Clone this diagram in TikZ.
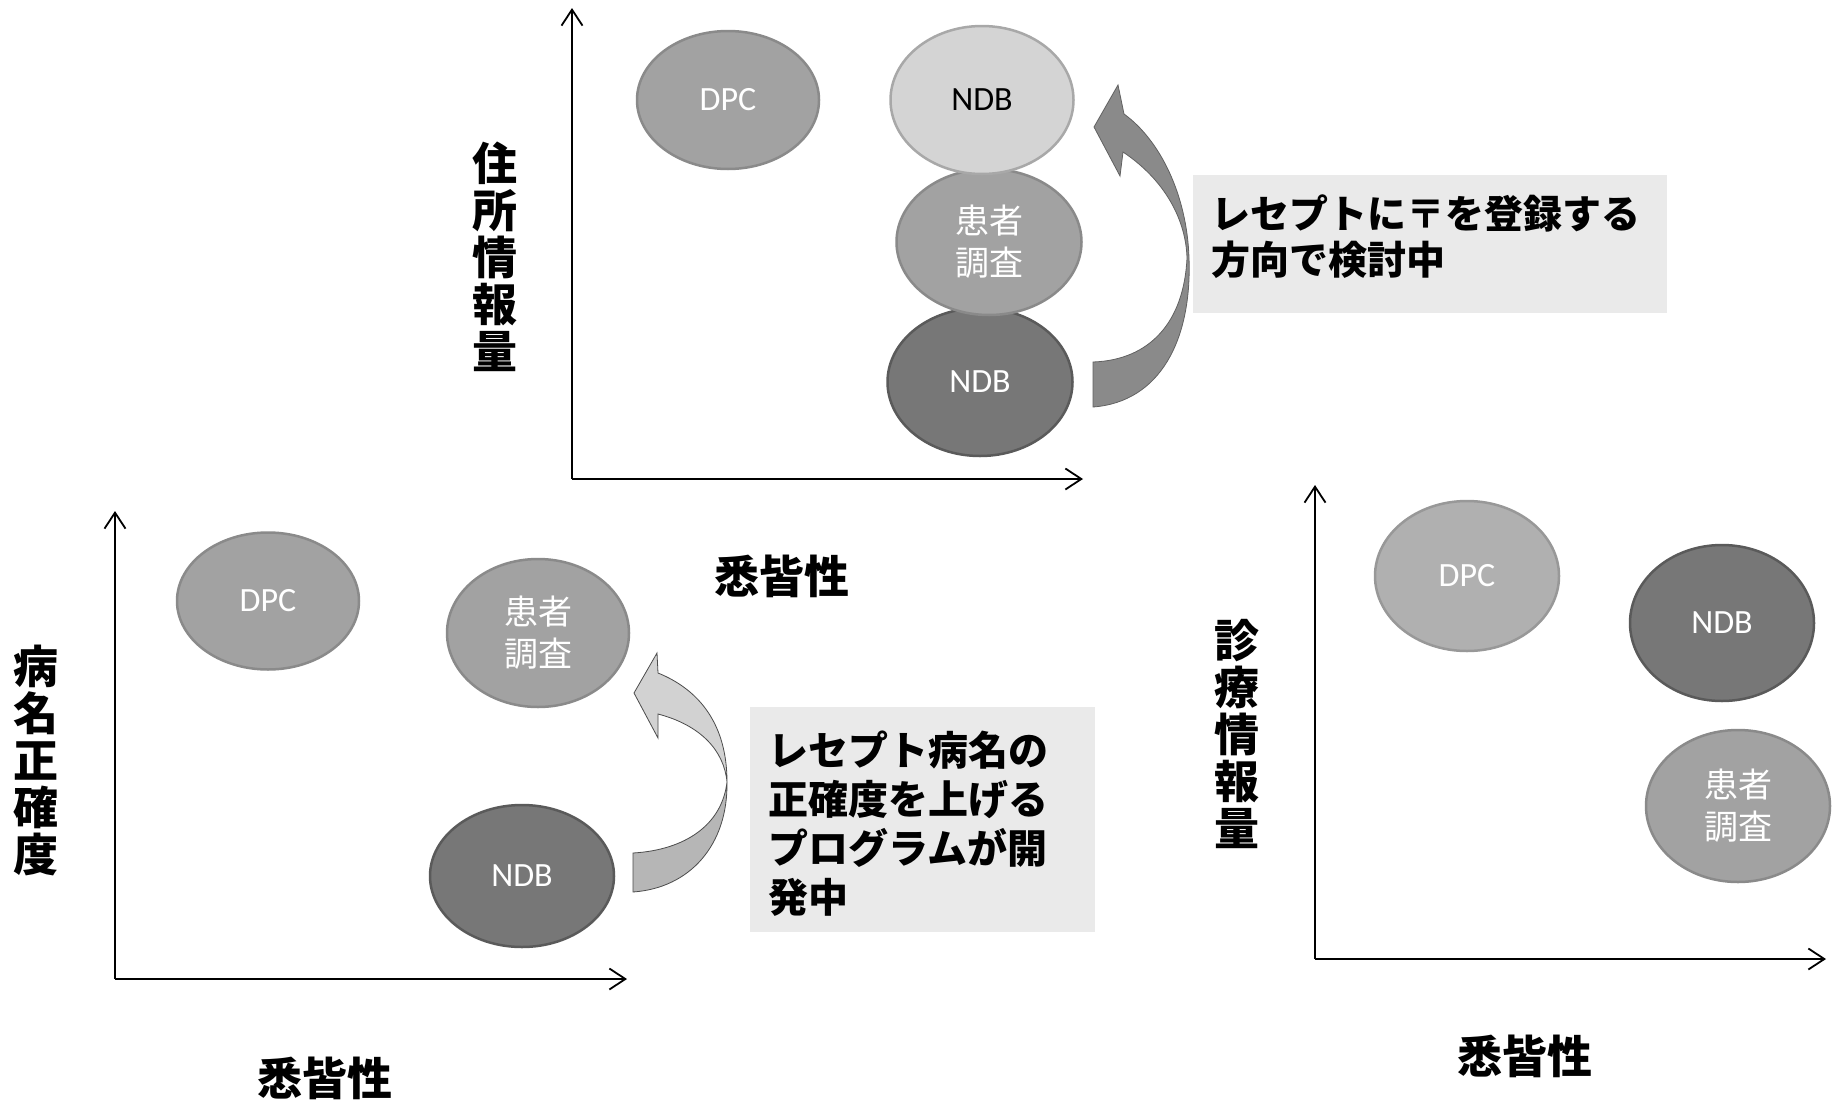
\documentclass[tikz,border=0pt]{standalone}
\usepackage{fontspec}
\setmainfont{Carlito}
\newfontfamily\jp{Noto Sans CJK JP}
\usetikzlibrary{shapes.geometric,arrows.meta}
\definecolor{cLight}{HTML}{D4D4D4}
\definecolor{cLightD}{HTML}{A8A8A8}
\definecolor{cMid}{HTML}{A2A2A2}
\definecolor{cMidD}{HTML}{8A8A8A}
\definecolor{cPale}{HTML}{B0B0B0}
\definecolor{cPaleD}{HTML}{989898}
\definecolor{cDark}{HTML}{777777}
\definecolor{cDarkD}{HTML}{5A5A5A}
\definecolor{boxc}{HTML}{EAEAEA}
\definecolor{arrTop}{HTML}{8A8A8A}
\definecolor{arrLight}{HTML}{D2D2D2}
\definecolor{arrLightB}{HTML}{B6B6B6}
\tikzset{
  blob/.style={ellipse, draw, line width=2.5pt, inner sep=0pt, text=white,
    font=\fontsize{34}{42}\selectfont, align=center},
  midblob/.style={blob, fill=cMid, draw=cMidD},
  paleblob/.style={blob, fill=cPale, draw=cPaleD},
  darkblob/.style={blob, fill=cDark, draw=cDarkD},
  lightblob/.style={blob, fill=cLight, draw=cLightD, text=black},
  axisline/.style={line width=1.8pt, -{Straight Barb[length=16pt,width=21pt,line width=1.8pt]}},
  vlabel/.style={font=\jp\bfseries\fontsize{45}{47}\selectfont, align=center, inner sep=0pt},
  xlabel/.style={font=\jp\bfseries\fontsize{45}{47}\selectfont, inner sep=0pt},
  notebox/.style={fill=boxc, draw=none, inner sep=0pt},
  notetext/.style={font=\jp\bfseries, align=left, inner sep=0pt, anchor=west},
}
\begin{document}
\begin{tikzpicture}[x=1pt,y=-1pt]
\useasboundingbox (0,0) rectangle (1834,1103);
\fill[white] (0,0) rectangle (1834,1103);

% ---------------- top chart ----------------
\coordinate (o1) at (572,479);
\coordinate (ya1) at (572,8);
\coordinate (xa1) at (1083,479);
\draw[axisline] (o1) -- (ya1);
\draw[axisline] (o1) -- (xa1);
\node[vlabel] (yl1) at (495,257) {住\\所\\情\\報\\量};
\node[xlabel] (xl1) at (782,576) {悉皆性};

\node[midblob, minimum width=182pt, minimum height=138pt] (dpc1) at (728,100) {DPC};
\node[darkblob, minimum width=185pt, minimum height=148pt] (ndbd1) at (980,382) {NDB};
\node[midblob, minimum width=185pt, minimum height=146pt] (pat1) at (989,242) {\jp 患者\\\jp 調査};
\node[lightblob, minimum width=183pt, minimum height=148pt] (ndbl1) at (982,100) {NDB};

% curved arrow (top)
\fill[arrTop, draw=arrTop!70!black, line width=0.8pt]
  (1093,362) -- (1093,407)
  .. controls (1160,402) and (1192,340) .. (1189,258)
  .. controls (1187,195) and (1160,140) .. (1124,114)
  -- (1118,85) -- (1094,127) -- (1120,176) -- (1123,152)
  .. controls (1165,180) and (1186,220) .. (1187,258)
  .. controls (1184,322) and (1150,360) .. (1093,362) -- cycle;

\node[notebox, minimum width=474pt, minimum height=138pt] (box1) at (1430,244) {};
\node[notetext, font=\jp\bfseries\fontsize{39}{46}\selectfont] (txt1) at (1211,237)
  {レセプトに〒を登録する\\方向で検討中};

% ---------------- bottom-left chart ----------------
\coordinate (o2) at (115,979);
\coordinate (ya2) at (115,511);
\coordinate (xa2) at (627,979);
\draw[axisline] (o2) -- (ya2);
\draw[axisline] (o2) -- (xa2);
\node[vlabel] (yl2) at (36,760) {病\\名\\正\\確\\度};
\node[xlabel] (xl2) at (325,1078) {悉皆性};

\node[midblob, minimum width=182pt, minimum height=137pt] (dpc2) at (268,601) {DPC};
\node[midblob, minimum width=182pt, minimum height=148pt] (pat2) at (538,633) {\jp 患者\\\jp 調査};
\node[darkblob, minimum width=184pt, minimum height=142pt] (ndb2) at (522,876) {NDB};

% curved arrow (bottom, two-tone ribbon)
\filldraw[fill=arrLightB, draw=black!70, line width=0.8pt]
  (633,853) -- (633,892)
  .. controls (690,888) and (728,845) .. (727,782)
  .. controls (722,825) and (685,850) .. (633,853) -- cycle;
\filldraw[fill=arrLight, draw=black!70, line width=0.8pt]
  (727,782)
  .. controls (727,725) and (700,690) .. (658,673)
  -- (657,653) -- (634,693) -- (658,738) -- (658,714)
  .. controls (700,725) and (724,750) .. (727,782) -- cycle;

\node[notebox, minimum width=345pt, minimum height=225pt] (box2) at (922,819) {};
\node[notetext, font=\jp\bfseries\fontsize{40}{49}\selectfont] (txt2) at (768,824)
  {レセプト病名の\\正確度を上げる\\プログラムが開\\発中};

% ---------------- bottom-right chart ----------------
\coordinate (o3) at (1315,959);
\coordinate (ya3) at (1315,485);
\coordinate (xa3) at (1826,959);
\draw[axisline] (o3) -- (ya3);
\draw[axisline] (o3) -- (xa3);
\node[vlabel] (yl3) at (1237,734) {診\\療\\情\\報\\量};
\node[xlabel] (xl3) at (1525,1056) {悉皆性};

\node[paleblob, minimum width=184pt, minimum height=150pt] (dpc3) at (1467,576) {DPC};
\node[darkblob, minimum width=184pt, minimum height=156pt] (ndb3) at (1722,623) {NDB};
\node[midblob, minimum width=184pt, minimum height=152pt] (pat3) at (1738,806) {\jp 患者\\\jp 調査};
\end{tikzpicture}
\end{document}
